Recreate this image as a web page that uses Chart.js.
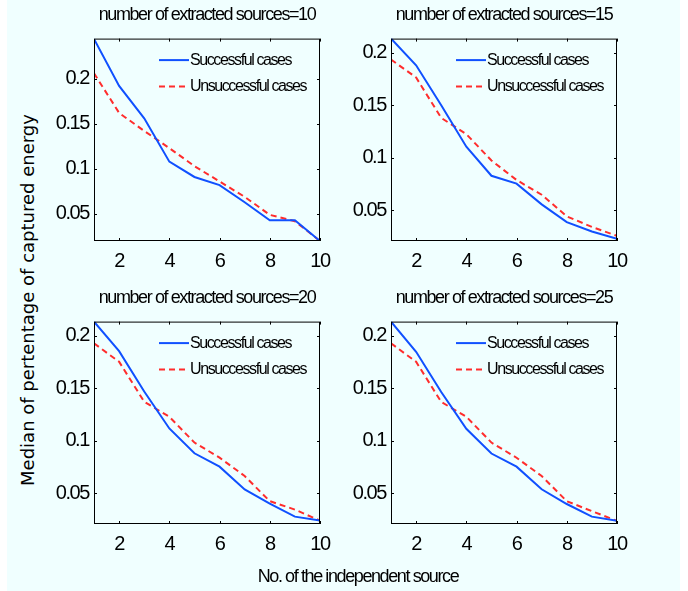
<!DOCTYPE html>
<html lang="en">
  <head>
    <meta charset="UTF-8" />
    <title>Median of captured energy</title>
    <script src="https://cdn.jsdelivr.net/npm/chart.js"></script>
    <style>
      body { margin: 0; background: #fff; }
      #page {
        position: absolute; left: 7px; top: 0; width: 673px; height: 591px;
        background: rgb(240, 255, 255);
      }
      canvas { position: absolute; }
      #ylabel {
        position: absolute; left: 27px; top: 300px;
        transform: translate(-50%, -50%) rotate(-90deg);
        font: 18px "DejaVu Sans", sans-serif; white-space: nowrap; color: #000;
      }
      #xlabel {
        position: absolute; left: 358px; top: 576px;
        transform: translate(-50%, -50%);
        font: 18px "Liberation Sans", Arial, sans-serif; letter-spacing: -1.4px;
        white-space: nowrap; color: #000;
      }
    </style>
  </head>
  <body>
    <div id="page"></div>
    <canvas id="c10" width="300" height="290" style="left:40px;top:0px"></canvas>
    <canvas id="c15" width="300" height="290" style="left:337px;top:0px"></canvas>
    <canvas id="c20" width="300" height="290" style="left:40px;top:283px"></canvas>
    <canvas id="c25" width="300" height="290" style="left:337px;top:283px"></canvas>
    <div id="ylabel">Median of pertentage of captured energy</div>
    <div id="xlabel">No. of the independent source</div>

    <script>
      // data
      const sources = [1, 2, 3, 4, 5, 6, 7, 8, 9, 10];
      const xTicks = [2, 4, 6, 8, 10];
      const yTicks = [0.05, 0.1, 0.15, 0.2];
      const legendNames = ["Successful cases", "Unsuccessful cases"];

      const succ10 = [0.244, 0.192, 0.156, 0.108, 0.091, 0.082, 0.063, 0.043, 0.043, 0.02];
      const unsucc10 = [0.206, 0.162, 0.142, 0.123, 0.103, 0.086, 0.069, 0.049, 0.042, 0.02];
      const succ15 = [0.2135, 0.188, 0.15, 0.1106, 0.083, 0.0755, 0.0558, 0.039, 0.03, 0.023];
      const unsucc15 = [0.1935, 0.1764, 0.138, 0.1226, 0.0975, 0.079, 0.065, 0.0444, 0.0344, 0.0259];
      const succ20 = [0.2134, 0.1853, 0.147, 0.1118, 0.0882, 0.0755, 0.0538, 0.0404, 0.028, 0.0242];
      const unsucc20 = [0.1927, 0.1752, 0.1372, 0.1229, 0.0984, 0.0841, 0.0666, 0.0427, 0.0347, 0.0242];
      const succ25 = [0.2134, 0.1847, 0.1465, 0.1115, 0.088, 0.0755, 0.054, 0.04, 0.028, 0.024];
      const unsucc25 = [0.1927, 0.1752, 0.137, 0.123, 0.0984, 0.084, 0.0666, 0.0427, 0.0332, 0.024];

      const sans = '"Liberation Sans", Arial, sans-serif';
      const blue = "#1050ff";
      const red = "#ff2d2d";

      // the original uses a narrow helvetica, tighten the spacing instead
      const narrowText = {
        id: "narrowText",
        beforeDraw(chart) {
          chart.ctx.letterSpacing = "-1.4px";
        },
      };

      // box with inward ticks, MATLAB style
      const boxPlugin = {
        id: "box",
        afterDatasetsDraw(chart) {
          const { ctx, chartArea: a, scales } = chart;
          ctx.save();
          ctx.strokeStyle = "#000";
          ctx.lineWidth = 1;
          ctx.strokeRect(a.left + 0.5, a.top + 0.5, a.right - a.left - 1, a.bottom - a.top - 1);
          ctx.beginPath();
          xTicks.forEach((v) => {
            const x = Math.round(scales.x.getPixelForValue(v)) + 0.5;
            ctx.moveTo(x, a.bottom); ctx.lineTo(x, a.bottom - 3);
            ctx.moveTo(x, a.top); ctx.lineTo(x, a.top + 3);
          });
          yTicks.forEach((v) => {
            const y = Math.round(scales.y.getPixelForValue(v)) + 0.5;
            ctx.moveTo(a.left, y); ctx.lineTo(a.left + 3, y);
            ctx.moveTo(a.right, y); ctx.lineTo(a.right - 3, y);
          });
          ctx.stroke();
          ctx.restore();
        },
      };

      // legend inside the axes, no frame
      const innerLegend = {
        id: "innerLegend",
        afterDraw(chart) {
          const { ctx, chartArea: a } = chart;
          ctx.save();
          chart.data.datasets.forEach((ds, i) => {
            const y = a.top + 21.5 + i * 26.5;
            ctx.strokeStyle = ds.borderColor;
            ctx.lineWidth = ds.borderWidth;
            ctx.setLineDash(ds.borderDash || []);
            ctx.beginPath();
            ctx.moveTo(a.left + 65, y);
            ctx.lineTo(a.left + 95, y);
            ctx.stroke();
            ctx.setLineDash([]);
            ctx.fillStyle = "#000";
            ctx.font = "16px " + sans;
            ctx.textBaseline = "middle";
            ctx.fillText(ds.label, a.left + 96, y);
          });
          ctx.restore();
        },
      };

      function makeChart(id, n, succ, unsucc, ymin, ymax) {
        new Chart(document.getElementById(id), {
          type: "line",
          data: {
            datasets: [
              {
                label: legendNames[0],
                data: sources.map((x, i) => ({ x, y: succ[i] })),
                borderColor: blue,
                borderWidth: 2,
                pointRadius: 0,
                tension: 0,
              },
              {
                label: legendNames[1],
                data: sources.map((x, i) => ({ x, y: unsucc[i] })),
                borderColor: red,
                borderWidth: 2,
                borderDash: [6, 4],
                pointRadius: 0,
                tension: 0,
              },
            ],
          },
          options: {
            responsive: false,
            animation: false,
            layout: { padding: { left: 0, right: 20, top: 0, bottom: 0 } },
            plugins: {
              legend: { display: false },
              tooltip: { enabled: false },
              title: {
                display: true,
                fullSize: false,
                text: "number of extracted sources=" + n,
                color: "#000",
                font: { family: sans, size: 18, weight: "normal" },
                padding: { top: 4, bottom: 13 },
              },
            },
            scales: {
              x: {
                type: "linear",
                min: 1,
                max: 10,
                grid: { display: false, drawTicks: false },
                border: { display: false },
                ticks: { color: "#000", font: { family: sans, size: 20 }, padding: 8, maxRotation: 0 },
                afterBuildTicks: (s) => { s.ticks = xTicks.map((v) => ({ value: v })); },
                afterFit: (s) => { s.height = 49; },
              },
              y: {
                min: ymin,
                max: ymax,
                grid: { display: false, drawTicks: false },
                border: { display: false },
                ticks: {
                  color: "#000",
                  font: { family: sans, size: 20 },
                  padding: 5,
                  callback: (v) => String(+v.toFixed(2)),
                },
                afterBuildTicks: (s) => { s.ticks = yTicks.map((v) => ({ value: v })); },
                afterFit: (s) => { s.width = 54; },
              },
            },
          },
          plugins: [narrowText, boxPlugin, innerLegend],
        });
      }

      makeChart("c10", 10, succ10, unsucc10, 0.02, 0.2444);
      makeChart("c15", 15, succ15, unsucc15, 0.021, 0.2134);
      makeChart("c20", 20, succ20, unsucc20, 0.021, 0.2134);
      makeChart("c25", 25, succ25, unsucc25, 0.021, 0.2134);
    </script>
  </body>
</html>
